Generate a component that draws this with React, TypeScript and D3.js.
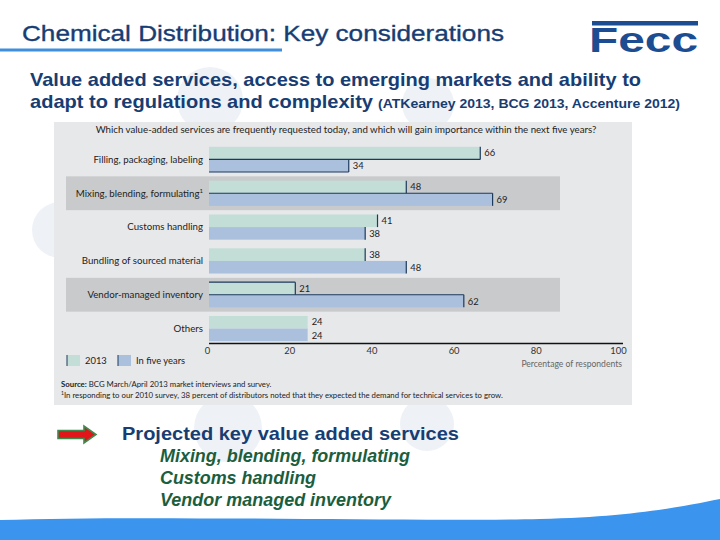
import React from "react";
import * as d3 from "d3";

const categories = [
  "Filling, packaging, labeling",
  "Mixing, blending, formulating",
  "Customs handling",
  "Bundling of sourced material",
  "Vendor-managed inventory",
  "Others",
];
const footnoteMark = ["", "1", "", "", "", ""];
const values2013 = [66, 48, 41, 38, 21, 24];
const valuesFiveYears = [34, 69, 38, 48, 62, 24];
const shadedRows = [false, true, false, false, true, false];
// which bar edges carry a dark rule in the source chart
const ruleTop = [false, false, false, false, true, false];
const ruleMid = [true, true, false, false, true, false];
const ruleBottom = [true, false, false, false, false, false];
const ruleEnd = [true, true, true, true, true, false];
const xTicks = [0, 20, 40, 60, 80, 100];
const seriesNames = ["2013", "In five years"];
const projected = [
  "Mixing, blending, formulating",
  "Customs handling",
  "Vendor managed inventory",
];
const projectedWidths = [250, 156, 231];

const W = 720;
const H = 540;
const C_GREEN = "#c3ded6";
const C_BLUE = "#abc0dc";
const C_DARK = "#1d3a5c";
const C_BG = "#e7e8ea";
const C_BAND = "#c9cacc";
const NAVY = "#173d73";
const chartFont = "Lato, 'Open Sans', sans-serif";

export default function App() {
  const x = d3.scaleLinear().domain([0, 100]).range([209, 620]);
  const y = d3
    .scaleBand<string>()
    .domain(categories)
    .range([142.5, 345.5])
    .paddingInner(0)
    .paddingOuter(0);
  const rowH = y.bandwidth();
  const barH = 12.6;

  return (
    <svg
      width={W}
      height={H}
      style={{ position: "absolute", left: 0, top: 0, background: "#fff" }}
      fontFamily="'Liberation Sans', Arial, sans-serif"
    >
      {/* decorative pale circles */}
      <g fill="#eef2f7">
        <circle cx={210} cy={100} r={33} />
        <circle cx={428} cy={104} r={26} />
        <circle cx={228} cy={428} r={34} />
        <circle cx={427} cy={424} r={27} />
        <circle cx={60} cy={230} r={28} />
      </g>

      {/* title */}
      <text
        x={22}
        y={41}
        fontSize={22}
        fill={NAVY}
        stroke={NAVY}
        strokeWidth={0.35}
        textLength={482}
        lengthAdjust="spacingAndGlyphs"
      >
        Chemical Distribution: Key considerations
      </text>
      <rect x={0} y={48.5} width={282} height={3} fill="#3f8fdc" />

      {/* logo */}
      <g fill="#1c4d92">
        <rect x={592} y={21} width={106} height={4.5} />
        <text
          x={589}
          y={52}
          fontSize={35}
          fontWeight="bold"
          textLength={109}
          lengthAdjust="spacingAndGlyphs"
        >
          Fecc
        </text>
      </g>

      {/* subtitle */}
      <text
        x={30}
        y={86}
        fontSize={18.5}
        fontWeight="bold"
        fill={NAVY}
        textLength={611}
        lengthAdjust="spacingAndGlyphs"
      >
        Value added services, access to emerging markets and ability to
      </text>
      <text
        x={30}
        y={108}
        fontSize={18.5}
        fontWeight="bold"
        fill={NAVY}
        textLength={343}
        lengthAdjust="spacingAndGlyphs"
      >
        adapt to regulations and complexity
      </text>
      <text
        x={378}
        y={108}
        fontSize={13}
        fontWeight="bold"
        fill={NAVY}
        textLength={302}
        lengthAdjust="spacingAndGlyphs"
      >
        (ATKearney 2013, BCG 2013, Accenture 2012)
      </text>

      {/* chart image */}
      <rect x={54} y={122} width={578} height={283} fill={C_BG} />
      <text
        x={346}
        y={133}
        fontSize={9.7}
        textAnchor="middle"
        fill="#222"
        fontFamily={chartFont}
      >
        Which value-added services are frequently requested today, and which will gain importance within the next five years?
      </text>

      {categories.map((c, i) => {
        const top = y(c)!;
        const mid = top + rowH / 2;
        const g0 = mid - barH;
        const g = values2013[i];
        const b = valuesFiveYears[i];
        return (
          <g key={c}>
            {shadedRows[i] && (
              <rect x={66} y={top} width={494} height={rowH} fill={C_BAND} />
            )}
            <rect x={x(0)} y={g0} width={x(g) - x(0)} height={barH} fill={C_GREEN} />
            <rect x={x(0)} y={mid} width={x(b) - x(0)} height={barH} fill={C_BLUE} />
            {ruleTop[i] && (
              <line x1={x(0)} x2={x(g)} y1={g0} y2={g0} stroke={C_DARK} strokeWidth={1.2} />
            )}
            {ruleMid[i] && (
              <line x1={x(0)} x2={x(Math.max(g, b))} y1={mid} y2={mid} stroke={C_DARK} strokeWidth={1.2} />
            )}
            {ruleBottom[i] && (
              <line x1={x(0)} x2={x(b)} y1={mid + barH} y2={mid + barH} stroke={C_DARK} strokeWidth={1.2} />
            )}
            {ruleEnd[i] && (
              <>
                <line x1={x(g)} x2={x(g)} y1={g0} y2={mid} stroke={C_DARK} strokeWidth={1.2} />
                <line x1={x(b)} x2={x(b)} y1={mid} y2={mid + barH} stroke={C_DARK} strokeWidth={1.2} />
              </>
            )}
            <text
              x={203}
              y={mid + 3.3}
              fontSize={9.7}
              textAnchor="end"
              fill="#222"
              fontFamily={chartFont}
            >
              {c}
              {footnoteMark[i] && (
                <tspan fontSize={6} dy={-3.5}>
                  {footnoteMark[i]}
                </tspan>
              )}
            </text>
            <text x={x(g) + 4} y={g0 + 9.5} fontSize={9.4} fill="#222" fontFamily={chartFont}>
              {g}
            </text>
            <text x={x(b) + 4} y={mid + 10} fontSize={9.4} fill="#222" fontFamily={chartFont}>
              {b}
            </text>
          </g>
        );
      })}

      {/* axis */}
      <line x1={x(0)} x2={x(100) + 3} y1={343.5} y2={343.5} stroke="#111" strokeWidth={1.5} />
      {xTicks.map((t) => (
        <text
          key={t}
          x={x(t) - 1.5}
          y={354}
          fontSize={9.4}
          textAnchor="middle"
          fill="#333"
          fontFamily={chartFont}
        >
          {t}
        </text>
      ))}
      <text
        x={622}
        y={367}
        fontSize={8.6}
        textAnchor="end"
        fill="#666"
        fontFamily={chartFont}
      >
        Percentage of respondents
      </text>

      {/* legend */}
      {seriesNames.map((s, i) => {
        const lx = i === 0 ? 67 : 118;
        return (
          <g key={s}>
            <rect x={lx} y={355} width={13} height={11} fill={i === 0 ? C_GREEN : C_BLUE} />
            <line x1={lx} x2={lx} y1={355} y2={366} stroke={C_DARK} strokeWidth={1} />
            <text x={lx + 18} y={364} fontSize={9.4} fill="#222" fontFamily={chartFont}>
              {s}
            </text>
          </g>
        );
      })}

      {/* source */}
      <text x={61} y={387} fontSize={7.8} fill="#222" fontFamily={chartFont}>
        <tspan fontWeight="bold">Source:</tspan> BCG March/April 2013 market interviews and survey.
      </text>
      <text x={61} y={398} fontSize={7.8} fill="#222" fontFamily={chartFont}>
        <tspan fontSize={5} dy={-3}>1</tspan>
        <tspan dy={3}>
          In responding to our 2010 survey, 38 percent of distributors noted that they expected the demand for technical services to grow.
        </tspan>
      </text>

      {/* arrow */}
      <path
        d="M58,430.5 L84,430.5 L84,426 L96,434.5 L84,443 L84,438.5 L58,438.5 Z"
        fill="#e0161b"
        stroke="#3f8a4e"
        strokeWidth={1.6}
      />

      {/* projected text */}
      <text
        x={122}
        y={440}
        fontSize={19}
        fontWeight="bold"
        fill={NAVY}
        textLength={337}
        lengthAdjust="spacingAndGlyphs"
      >
        Projected key value added services
      </text>
      {projected.map((p, i) => (
        <text
          key={p}
          x={160}
          y={462 + i * 22}
          fontSize={17.5}
          fontWeight="bold"
          fontStyle="italic"
          fill="#1b5e3e"
          textLength={projectedWidths[i]}
          lengthAdjust="spacingAndGlyphs"
        >
          {p}
        </text>
      ))}

      {/* bottom wave */}
      <path
        d="M0,520 C150,515 400,522 540,519 C630,517 680,507 720,499 L720,540 L0,540 Z"
        fill="#3b94ee"
      />
    </svg>
  );
}
